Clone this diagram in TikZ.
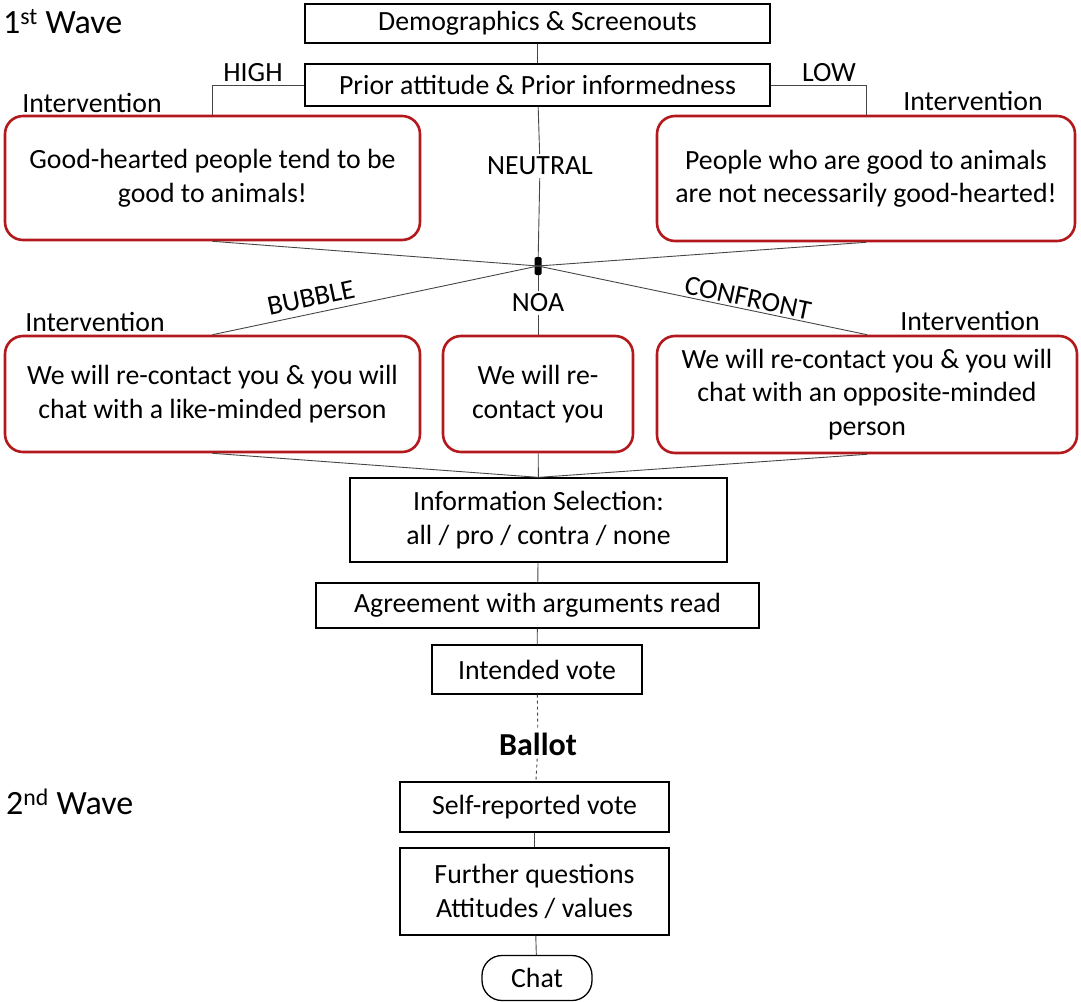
\documentclass[tikz,border=0pt]{standalone}
\usepackage{fontspec}
\setmainfont{Carlito}
\definecolor{boxred}{RGB}{178,24,28}
\definecolor{ln}{RGB}{70,70,70}
\begin{document}
\begin{tikzpicture}[x=1pt,y=-1pt,
  every node/.style={font=\fontsize{27.8}{33.5}\selectfont, inner sep=0pt, align=center},
  plain/.style={draw=black, line width=1.3pt, fill=white},
  redbox/.style={draw=boxred, line width=2.6pt, rounded corners=18pt},
  conn/.style={draw=ln, line width=0.9pt},
  gap/.style={fill=white, inner sep=3pt}
]
\useasboundingbox (0,0) rectangle (1081,1001);

% wave labels
\node[anchor=west, font=\fontsize{34}{36}\selectfont] (w1) at (3,22) {1\textsuperscript{st} Wave};
\node[anchor=west, font=\fontsize{34}{36}\selectfont] (w2) at (6,802) {2\textsuperscript{nd} Wave};

% top boxes
\node[plain, minimum width=465, minimum height=39] (demo) at (537.5,23.5) {Demographics \& Screenouts};
\node[plain, minimum width=465, minimum height=42] (prior) at (537.5,85) {Prior attitude \& Prior informedness};

% first intervention boxes
\node[redbox, minimum width=415, minimum height=124] (rl) at (212.5,178) {Good-hearted people tend to be\\good to animals!};
\node[redbox, minimum width=418, minimum height=125] (rr) at (866,178.5) {People who are good to animals\\are not necessarily good-hearted!};

% junction
\node[fill=black, rounded corners=1.5pt, minimum width=7, minimum height=18] (j) at (538,266) {};

% middle row
\node[redbox, minimum width=415, minimum height=116] (ml) at (212.5,394) {We will re-contact you \& you will\\chat with a like-minded person};
\node[redbox, minimum width=190, minimum height=116] (mm) at (538,394) {We will re-\\contact you};
\node[redbox, minimum width=420, minimum height=117] (mr) at (867,394.5) {We will re-contact you \& you will\\chat with an opposite-minded\\person};

% lower chain
\node[plain, minimum width=377, minimum height=84] (info) at (538.5,520) {Information Selection:\\all / pro / contra / none};
\node[plain, minimum width=443, minimum height=45] (agree) at (537.5,605.5) {Agreement with arguments read};
\node[plain, minimum width=210, minimum height=49] (vote) at (537,669.5) {Intended vote};
\node[font=\fontsize{32}{34}\selectfont\bfseries, gap] (ballot) at (538,744) {Ballot};
\node[plain, line width=1.9pt, minimum width=269, minimum height=50] (self) at (534.5,807) {Self-reported vote};
\node[plain, minimum width=269, minimum height=87] (further) at (534.5,891.5) {Further questions\\Attitudes / values};
\node[plain, rounded corners=20pt, minimum width=110, minimum height=45] (chat) at (537,978) {Chat};

% labels with gaps
\node[gap] (neutral) at (540,166) {NEUTRAL};
\node[gap] (noa) at (538,303) {NOA};
\node (high) at (253,73) {HIGH};
\node (low) at (829,73) {LOW};
\node (iv1) at (92,103) {Intervention};
\node (iv2) at (973,101) {Intervention};
\node (iv3) at (95,322) {Intervention};
\node (iv4) at (970,321) {Intervention};
\node[rotate=12] (bubble) at (311,298) {BUBBLE};
\node[rotate=-12] (confront) at (748,298) {CONFRONT};

% connectors
\draw[conn] (demo) -- (prior);
\draw[conn] (prior.west) -| (rl.north);
\draw[conn] (prior.east) -| (rr.north);
\draw[conn] (prior) -- (neutral);
\draw[conn] (neutral) -- (j);
\draw[conn] (rl.south) -- (j.center);
\draw[conn] (rr.south) -- (j.center);
\draw[conn] (j.center) -- (ml.north);
\draw[conn] (j.center) -- (mr.north);
\draw[conn] (j) -- (noa);
\draw[conn] (noa) -- (mm);
\draw[conn] (ml.south) -- (info.north);
\draw[conn] (mr.south) -- (info.north);
\draw[conn] (mm) -- (info);
\draw[conn] (info) -- (agree);
\draw[conn] (agree) -- (vote);
\draw[conn, dashed] (vote) -- (ballot);
\draw[conn, dashed] (ballot) -- (self);
\draw[conn] (self) -- (further);
\draw[conn] (further) -- (chat);
\end{tikzpicture}
\end{document}
